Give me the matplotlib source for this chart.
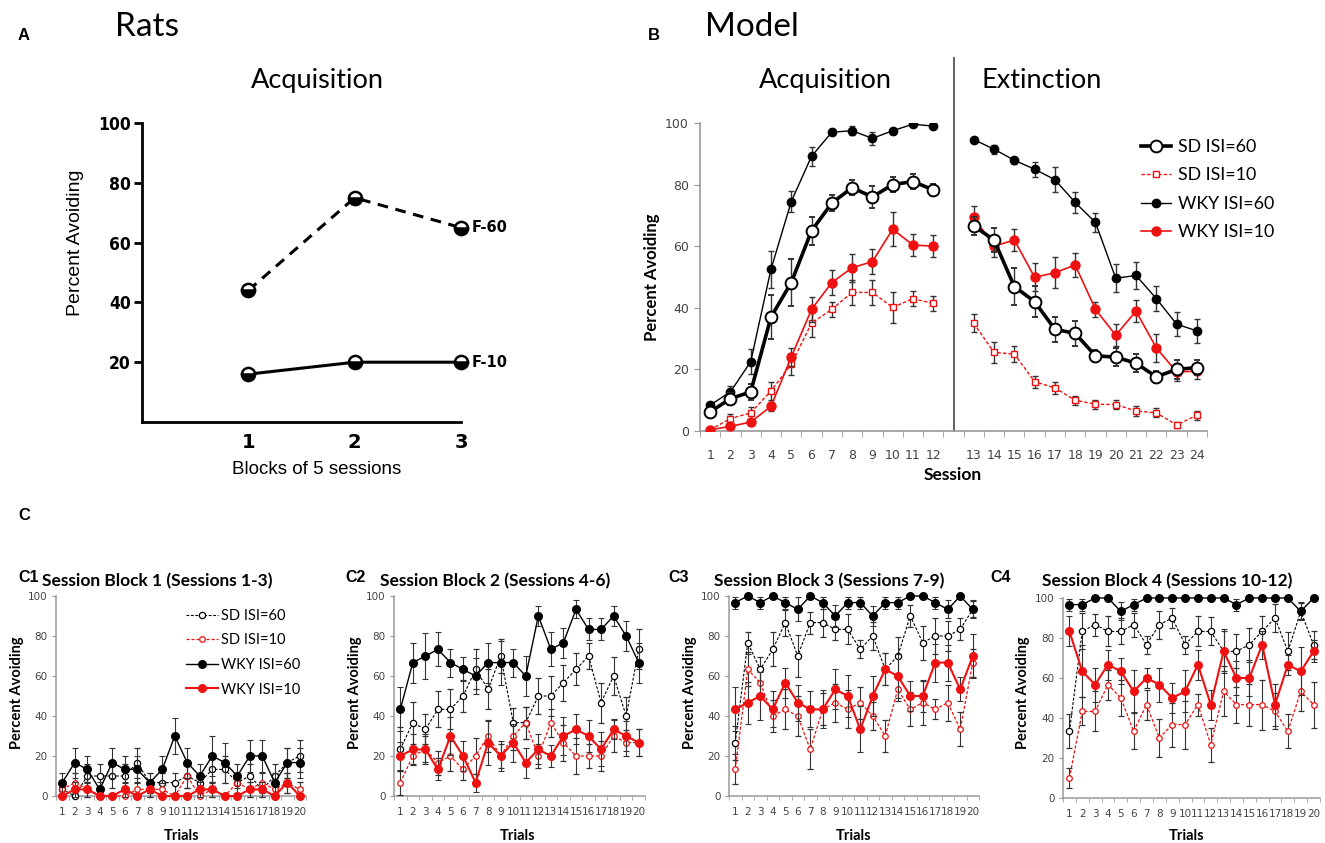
import numpy as np
import matplotlib
matplotlib.use('Agg')
import matplotlib.pyplot as plt
from matplotlib.lines import Line2D

# ---- Panel A: rats (blocks of 5 sessions)
blocks = [1, 2, 3]
a_f60 = [44, 75, 65]
a_f10 = [16, 20, 20]

# ---- Panel B: model, sessions 1-24 (1-12 acquisition, 13-24 extinction)
sessions = list(range(1, 25))
b_sd60 = [6.2, 10.5, 12.7, 37, 48.2, 65, 74, 79, 76, 80, 81, 78.3,
          66.6, 62, 46.9, 42, 33, 31.7, 24.4, 24, 22, 17.6, 20, 20.6]
b_sd60_err = [1, 2, 2.5, 7, 7.5, 4.5, 2.5, 2.5, 3.5, 2.5, 2.5, 2,
              3, 4, 6, 5, 4, 4, 2, 3, 3, 2, 3, 2.5]
b_sd10 = [0.4, 4, 5.9, 13, 21.7, 35, 39.5, 45, 45, 40.1, 43, 41.4,
          35, 25.5, 25, 16, 14, 10, 8.7, 8.6, 6.5, 5.9, 2, 5.1]
b_sd10_err = [0.5, 1.5, 2, 3, 3.5, 4.5, 2.5, 4, 4, 5, 2.5, 2.5,
              3, 3.5, 2.5, 2, 2, 1.5, 1.5, 1.5, 1.5, 1.5, 1, 1.5]
b_wky60 = [8.4, 12.7, 22.5, 52.5, 74.5, 89.2, 97, 97.5, 95, 97.5, 99.6, 99,
           94.6, 91.5, 87.9, 85, 81.6, 74.2, 67.7, 49.6, 50.5, 43, 34.7, 32.5]
b_wky60_err = [1, 2, 4, 6, 3.5, 3, 1, 1.5, 2, 1, 0.5, 0.5,
               0.5, 1.5, 1.2, 2.5, 4, 3.5, 3, 4.5, 4.5, 4, 4, 4]
b_wky10 = [0.4, 1.5, 2.9, 8, 24, 39.5, 48.2, 53, 55, 65.5, 60.4, 60,
           69.4, 60, 62, 49.9, 51.4, 53.9, 39.5, 31.1, 38.9, 27, 19.2, 19.4]
b_wky10_err = [0.5, 1, 1, 1.5, 3, 4, 4, 4.5, 4, 5.5, 3.5, 3.5,
               3.5, 3.5, 3.5, 4.5, 5, 4, 2.5, 3.5, 3.5, 4.5, 3, 2.5]

# ---- Panel C: trials 1-20 for four session blocks
trials = list(range(1, 21))
c_titles = ['Session Block 1 (Sessions 1-3)', 'Session Block 2 (Sessions 4-6)',
            'Session Block 3 (Sessions 7-9)', 'Session Block 4 (Sessions 10-12)']
c_sd60 = [
    [3.3, 0, 10, 10, 10, 10, 16.7, 6.7, 6.7, 6.7, 10, 6.7, 13.3, 13.3, 6.7, 10, 3.3, 10, 16.7, 20],
    [23.3, 36.7, 33.3, 43.3, 43.3, 50, 63.3, 53.3, 70, 36.7, 36.7, 50, 50, 56.7, 63.3, 70, 46.7, 60, 40, 73.3],
    [26.7, 76.7, 63.3, 73.3, 86.7, 70, 86.7, 86.7, 83.3, 83.3, 73.3, 80, 63.3, 70, 90, 76.7, 80, 80, 83.3, 93.3],
    [33.3, 83.3, 86.7, 83.3, 83.3, 86.7, 76.7, 86.7, 90, 76.7, 83.3, 83.3, 73.3, 73.3, 76.7, 83.3, 90, 73.3, 93.3, 76.7],
]
c_sd60_err = [
    [3.6, 0, 6, 6, 6, 6, 7.5, 5, 5, 5, 6, 5, 6.8, 6.8, 5, 6, 3.6, 6, 7.5, 8],
    [11, 10.5, 7.5, 9, 10, 8, 10, 10, 8.5, 7.5, 8, 9, 10, 9, 8, 6.5, 10, 9.5, 9.5, 10],
    [8.5, 5.5, 6, 8.5, 6.5, 10.5, 5.5, 7, 5.5, 7.5, 4.5, 7, 8, 9.5, 5.5, 8.5, 9, 7.5, 5.5, 4],
    [8.5, 9, 5.5, 7.5, 6.5, 6, 4.5, 7, 5, 4.5, 7.5, 7, 10, 8.5, 8.5, 7.5, 7, 9.5, 4, 7],
]
c_sd10 = [
    [3.3, 6.7, 3.3, 0, 0, 0, 3.3, 3.3, 3.3, 0, 10, 0, 3.3, 0, 6.7, 3.3, 6.7, 3.3, 6.7, 3.3],
    [6.7, 20, 23.3, 16.7, 20, 13.3, 20, 30, 20, 30, 36.7, 20, 36.7, 26.7, 20, 20, 20, 30, 26.7, 26.7],
    [13.3, 63.3, 56.7, 40, 43.3, 40, 23.3, 43.3, 46.7, 43.3, 46.7, 40, 30, 53.3, 43.3, 46.7, 43.3, 46.7, 33.3, 66.7],
    [10, 43.3, 43.3, 56.7, 50, 33.3, 46.7, 30, 36.7, 36.7, 46.7, 26.7, 53.3, 46.7, 46.7, 46.7, 43.3, 33.3, 53.3, 46.7],
]
c_sd10_err = [
    [3.6, 5, 3.6, 0, 0, 0, 3.6, 3.6, 3.6, 0, 6, 0, 3.6, 0, 5, 3.6, 5, 3.6, 5, 3.6],
    [6, 4.5, 6.5, 6, 7.5, 5.5, 9, 8, 6, 7, 8, 6, 7, 9, 9, 6, 7.5, 8, 6.5, 6.7],
    [7.5, 8.5, 8, 8, 10, 10, 10, 8, 9.5, 9.5, 8, 7, 8, 6, 8.5, 11, 5, 9, 8.5, 7],
    [5, 7, 10, 7.5, 9, 9, 7.5, 9.5, 11, 12, 5.5, 8.5, 12.5, 9, 10.5, 12.5, 9, 8.5, 10, 11.5],
]
c_wky60 = [
    [6.7, 16.7, 13.3, 3.3, 16.7, 13.3, 13.3, 6.7, 13.3, 30, 16.7, 10, 20, 16.7, 10, 20, 20, 6.7, 16.7, 16.7],
    [43.3, 66.7, 70, 73.3, 66.7, 63.3, 60, 66.7, 66.7, 66.7, 60, 90, 73.3, 76.7, 93.3, 83.3, 83.3, 90, 80, 66.7],
    [96.7, 100, 96.7, 100, 96.7, 93.3, 100, 96.7, 90, 96.7, 96.7, 90, 96.7, 96.7, 100, 100, 96.7, 93.3, 100, 93.3],
    [96.7, 96.7, 100, 100, 93.3, 96.7, 100, 100, 100, 100, 100, 100, 100, 96.7, 100, 100, 100, 100, 93.3, 100],
]
c_wky60_err = [
    [5, 7.5, 6.8, 3.6, 7.5, 6.8, 6.8, 5, 6.8, 9.2, 7.5, 6, 10, 10, 6, 8, 8, 5, 7.5, 7.5],
    [11, 10, 11.5, 8.5, 7, 6, 9, 10, 11, 7, 10, 5, 8.5, 7.5, 4.5, 5.5, 5.5, 5, 7.5, 10],
    [3, 0, 3, 0, 3, 6, 0, 3, 5.5, 3, 3, 5, 3, 3, 0, 0, 3, 4.5, 0, 4.5],
    [3, 3, 0, 0, 4.5, 3, 0, 0, 0, 0, 0, 0, 0, 3, 0, 0, 0, 0, 4.5, 0],
]
c_wky10 = [
    [0, 3.3, 3.3, 0, 0, 3.3, 0, 3.3, 0, 0, 0, 3.3, 3.3, 0, 0, 3.3, 3.3, 0, 6.7, 0],
    [20, 23.3, 23.3, 13.3, 30, 20, 6.7, 26.7, 20, 26.7, 16.7, 23.3, 20, 30, 33.3, 30, 23.3, 33.3, 30, 26.7],
    [43.3, 46.7, 50, 43.3, 56.7, 46.7, 43.3, 43.3, 53.3, 50, 33.3, 50, 63.3, 60, 50, 50, 66.7, 66.7, 53.3, 70],
    [83.3, 63.3, 56.7, 66.7, 63.3, 53.3, 60, 56.7, 50, 53.3, 66.7, 46.7, 73.3, 60, 60, 76.7, 46.7, 66.7, 63.3, 73.3],
]
c_wky10_err = [
    [0, 3.6, 3.6, 0, 0, 3.6, 0, 3.6, 0, 0, 0, 3.6, 3.6, 0, 0, 3.6, 3.6, 0, 5, 0],
    [7, 7.5, 7.5, 5.5, 9.5, 7.5, 4.5, 11, 7.5, 9.5, 7.5, 7.5, 5.5, 9.5, 7.5, 8, 8.5, 5, 7.5, 6.7],
    [11, 10.5, 12, 9, 7.5, 9, 9, 9.5, 10, 10.5, 11.5, 10, 8, 11, 7.5, 8, 9.5, 9, 6, 11],
    [7.5, 13, 8.5, 7.5, 6.5, 10.5, 5, 8.5, 7.5, 10.5, 7.5, 7.5, 11, 8.5, 9, 7, 10.5, 5, 12, 5.5],
]

RED = '#ee1111'
GRAY = '#9a9a9a'
TICKC = '#444444'
EC = '#333333'
TITLE_FONT = 'Lato'

W, H = 1325, 843
fig = plt.figure(figsize=(W / 100, H / 100), dpi=100)


def px_ax(l, t, r, b):
    return fig.add_axes([l / W, 1 - b / H, (r - l) / W, (b - t) / H])


def ftext(x, y, s, **kw):
    return fig.text(x / W, 1 - y / H, s, **kw)


# ================= Panel A =================
axA = px_ax(142, 123, 461, 422)
axA.set_xlim(0, 3)
axA.set_ylim(0, 100)
ball = dict(marker='o', ms=9.5, fillstyle='bottom', mfc='black', mfcalt='white',
            mec='black', mew=1.8, clip_on=False, zorder=3)
axA.plot(blocks, a_f60, color='black', lw=2.2, ls=(0, (3.5, 2.5)), **ball)
axA.plot(blocks, a_f10, color='black', lw=2.2, **ball)
for s in ['top', 'right']:
    axA.spines[s].set_visible(False)
for s in ['left', 'bottom']:
    axA.spines[s].set_linewidth(2)
axA.set_yticks([20, 40, 60, 80, 100])
axA.set_yticklabels(['20', '40', '60', '80', '100'], fontsize=12.5,
                    fontweight='bold', family='DejaVu Sans', stretch='condensed')
axA.tick_params(axis='y', length=6, width=2, pad=2)
axA.set_xticks(blocks)
axA.set_xticklabels(['1', '2', '3'], fontsize=14, fontweight='bold', family='DejaVu Sans')
axA.tick_params(axis='x', length=0, pad=8)
axA.set_xticks([3], minor=True)
axA.tick_params(axis='x', which='minor', length=6, width=2)
axA.annotate('F-60', (3, a_f60[2]), xytext=(8, 0), textcoords='offset points',
             va='center', fontsize=10.5, fontweight='bold', annotation_clip=False)
axA.annotate('F-10', (3, a_f10[2]), xytext=(8, 0), textcoords='offset points',
             va='center', fontsize=10.5, fontweight='bold', annotation_clip=False)

ftext(18, 35, 'A', fontsize=12, fontweight='bold', family='Liberation Sans', va='center')
ftext(115, 36, 'Rats', fontsize=24, family=TITLE_FONT, va='baseline')
ftext(317, 88, 'Acquisition', fontsize=19.5, family=TITLE_FONT, ha='center', va='baseline')
ftext(75, 243, 'Percent Avoiding', fontsize=14, family='Liberation Sans',
      rotation=90, ha='center', va='center')
ftext(317, 470, 'Blocks of 5 sessions', fontsize=13.5, family='Liberation Sans',
      ha='center', va='center')

# ================= Panel B =================
axB = px_ax(700, 123, 1207, 431)
axB.set_xlim(0.5, 25.5)
axB.set_ylim(0, 100)
pos = np.array([s if s <= 12 else s + 1 for s in sessions])

styles = [
    (b_sd60, b_sd60_err, dict(color='black', lw=2.6, marker='o', ms=8.5, mfc='white',
                              mec='black', mew=1.4, zorder=5)),
    (b_sd10, b_sd10_err, dict(color=RED, lw=1.0, ls=(0, (2.5, 1.5)), marker='s', ms=5,
                              mfc='white', mec=RED, mew=1.0, zorder=3)),
    (b_wky60, b_wky60_err, dict(color='black', lw=1.0, marker='o', ms=6, mfc='black',
                                mec='black', zorder=4)),
    (b_wky10, b_wky10_err, dict(color=RED, lw=1.2, marker='o', ms=6.5, mfc=RED,
                                mec=RED, zorder=4)),
]
for vals, errs, st in styles:
    vals = np.array(vals)
    errs = np.array(errs)
    for seg in (slice(0, 12), slice(12, 24)):
        axB.errorbar(pos[seg], vals[seg], yerr=errs[seg], ecolor=EC, elinewidth=1,
                     capsize=2.5, capthick=1, **st)

axB.axvline(13, ymin=0, ymax=1.21, color='#555555', lw=1.3, clip_on=False)
for s in ['top', 'right']:
    axB.spines[s].set_visible(False)
for s in ['left', 'bottom']:
    axB.spines[s].set_color(GRAY)
    axB.spines[s].set_linewidth(1.2)
axB.set_yticks(range(0, 101, 20))
axB.tick_params(axis='y', length=4, color=GRAY, labelsize=9, labelcolor=TICKC, pad=4)
axB.set_xticks(pos)
axB.set_xticklabels([str(s) for s in sessions])
axB.tick_params(axis='x', which='major', length=0, labelsize=9, labelcolor=TICKC, pad=13)
axB.set_xticks(np.arange(0.5, 26, 1), minor=True)
axB.tick_params(axis='x', which='minor', length=4, color=GRAY)

handles = [Line2D([], [], **{k: v for k, v in st.items() if k != 'zorder'}) for _, _, st in styles]
axB.legend(handles, ['SD ISI=60', 'SD ISI=10', 'WKY ISI=60', 'WKY ISI=10'],
           loc='upper left', bbox_to_anchor=(1141 / W, 1 - 139 / H),
           bbox_transform=fig.transFigure, frameon=False,
           prop={'family': TITLE_FONT, 'size': 12.8}, handlelength=1.7,
           handletextpad=0.4, labelspacing=0.7, borderpad=0, borderaxespad=0, numpoints=1)

ftext(648, 35, 'B', fontsize=12, fontweight='bold', family='Liberation Sans', va='center')
ftext(705, 36, 'Model', fontsize=24, family=TITLE_FONT, va='baseline')
ftext(825, 88, 'Acquisition', fontsize=19.5, family=TITLE_FONT, ha='center', va='baseline')
ftext(1042, 88, 'Extinction', fontsize=19.5, family=TITLE_FONT, ha='center', va='baseline')
ftext(652, 277, 'Percent Avoiding', fontsize=12, fontweight='bold', family=TITLE_FONT,
      rotation=90, ha='center', va='center')
ftext(953, 475, 'Session', fontsize=12.5, fontweight='bold', family=TITLE_FONT,
      ha='center', va='center')

# ================= Panel C =================
ftext(18, 515, 'C', fontsize=12, fontweight='bold', family='Liberation Sans', va='center')
c_boxes = [(56, 596, 306, 796), (394, 596, 645, 796), (729, 596, 979, 796), (1063, 598, 1320, 798)]
c_labels_x = [18, 345, 668, 990]
c_title_x = [157, 495, 829, 1167]
c_ylab_x = [17, 355, 690, 1023]
c_xlab_x = [182, 518, 854, 1187]

for k in range(4):
    ax = px_ax(*c_boxes[k])
    ax.set_xlim(0.5, 20.5)
    ax.set_ylim(0, 100)
    cstyles = [
        (c_sd60[k], c_sd60_err[k], dict(color='black', lw=0.8, ls=(0, (2.5, 1.5)), marker='o',
                                        ms=4.5, mfc='white', mec='black', mew=0.9, zorder=3)),
        (c_sd10[k], c_sd10_err[k], dict(color=RED, lw=0.9, ls=(0, (2.5, 1.5)), marker='o',
                                        ms=4, mfc='white', mec=RED, mew=0.9, zorder=3)),
        (c_wky60[k], c_wky60_err[k], dict(color='black', lw=1.0, marker='o', ms=5.5,
                                          mfc='black', mec='black', zorder=4)),
        (c_wky10[k], c_wky10_err[k], dict(color=RED, lw=1.5, marker='o', ms=5.5,
                                          mfc=RED, mec=RED, zorder=4)),
    ]
    for vals, errs, st in cstyles:
        ax.errorbar(trials, vals, yerr=errs, ecolor=EC, elinewidth=0.8,
                    capsize=2, capthick=0.8, clip_on=False, **st)
    for s in ['top', 'right']:
        ax.spines[s].set_visible(False)
    for s in ['left', 'bottom']:
        ax.spines[s].set_color(GRAY)
        ax.spines[s].set_linewidth(1.1)
    ax.set_yticks(range(0, 101, 20))
    ax.tick_params(axis='y', length=3, color=GRAY, labelsize=7.5, labelcolor=TICKC, pad=3)
    ax.set_xticks(trials)
    ax.tick_params(axis='x', which='major', length=0, labelsize=7.5, labelcolor=TICKC, pad=8)
    ax.set_xticks(np.arange(0.5, 21, 1), minor=True)
    ax.tick_params(axis='x', which='minor', length=3, color=GRAY)

    if k == 0:
        hs = [Line2D([], [], **{kk: v for kk, v in st.items() if kk != 'zorder'})
              for _, _, st in cstyles]
        ax.legend(hs, ['SD ISI=60', 'SD ISI=10', 'WKY ISI=60', 'WKY ISI=10'],
                  loc='upper left', bbox_to_anchor=(186 / W, 1 - 609 / H),
                  bbox_transform=fig.transFigure, frameon=False,
                  prop={'family': TITLE_FONT, 'size': 10.5}, handlelength=2.2,
                  handletextpad=0.2, labelspacing=0.72, borderpad=0, borderaxespad=0,
                  numpoints=1)

    ftext(c_labels_x[k], 578, 'C%d' % (k + 1), fontsize=11.5, fontweight='bold',
          family='Liberation Sans', va='center')
    ftext(c_title_x[k], 586, c_titles[k], fontsize=12.5, fontweight='bold',
          family=TITLE_FONT, ha='center', va='baseline')
    ftext(c_ylab_x[k], 693, 'Percent Avoiding', fontsize=10.5, fontweight='bold',
          family=TITLE_FONT, rotation=90, ha='center', va='center')
    ftext(c_xlab_x[k], 836, 'Trials', fontsize=10.5, fontweight='bold',
          family=TITLE_FONT, ha='center', va='center')

fig.savefig('out.png', dpi=100)
